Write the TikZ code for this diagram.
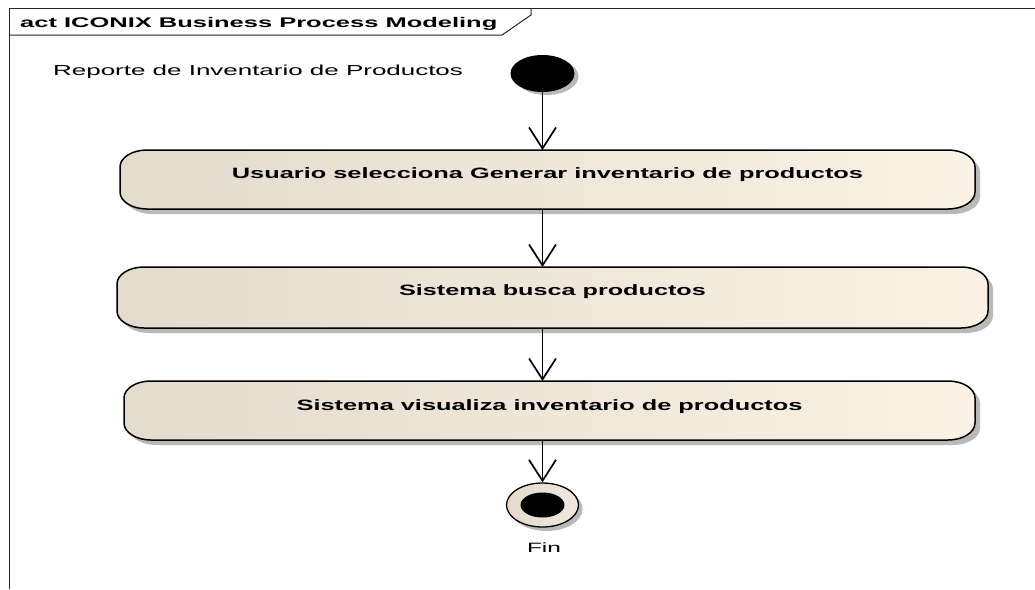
\documentclass[tikz,border=0pt]{standalone}
\usepackage{fontspec}
\usepackage{graphicx}
\setmainfont{Liberation Sans}
\usetikzlibrary{shapes.geometric,arrows.meta,calc,backgrounds}
\definecolor{shadowc}{RGB}{185,185,185}
\definecolor{boxleft}{RGB}{228,219,206}
\definecolor{boxright}{RGB}{251,242,229}
\definecolor{finfill}{RGB}{240,232,220}
\newcommand\hs[2]{\scalebox{#1}[1]{#2}}
\newcommand\ebox[5]{% options, node, rx, ry, shift
  \path[#1] ($(#2.north west)+(#5)+(#3,0)$) -- ($(#2.north east)+(#5)+(-#3,0)$)
  arc[start angle=90,end angle=0,x radius=#3,y radius=#4]
  -- ($(#2.south east)+(#5)+(0,#4)$)
  arc[start angle=0,end angle=-90,x radius=#3,y radius=#4]
  -- ($(#2.south west)+(#5)+(#3,0)$)
  arc[start angle=270,end angle=180,x radius=#3,y radius=#4]
  -- ($(#2.north west)+(#5)+(0,-#4)$)
  arc[start angle=180,end angle=90,x radius=#3,y radius=#4] -- cycle;}
\tikzset{
  actbox/.style={rectangle, inner sep=0pt, outer sep=0pt, font=\fontsize{15}{17}\selectfont\bfseries},
  flow/.style={line width=1.7pt, -{Straight Barb[length=21pt,width=27pt,line width=1.7pt]}},
  frameline/.style={line width=1pt, draw=black!85},
}
\begin{document}
\begin{tikzpicture}[x=1pt,y=1pt]
\useasboundingbox (0,0) rectangle (1035,-589);
% frame
\draw[frameline] (9,-589) -- (9,-8) -- (1035,-8);
\draw[frameline] (9,-35) -- (502,-35) -- (531,-15) -- (531,-8);
\node[anchor=base west, inner sep=0pt, font=\fontsize{14}{16}\selectfont\bfseries] (title) at (20,-27.5)
  {\hs{1.82}{act ICONIX Business Process Modeling}};
\node[anchor=base west, inner sep=0pt, font=\fontsize{14.5}{17}\selectfont] (lbl) at (53,-75.5)
  {\hs{1.79}{Reporte de Inventario de Productos}};
% nodes
\node[ellipse, fill=black, inner sep=0pt, minimum width=64pt, minimum height=37pt] (s) at (542.5,-73.5) {};
\node[actbox, minimum width=855pt, minimum height=59pt] (b1) at (547.5,-179.5)
  {\raisebox{1.5pt}[0pt][0pt]{\hs{1.69}{Usuario selecciona Generar inventario de productos}}};
\node[actbox, minimum width=871pt, minimum height=61pt] (b2) at (552.5,-297.5)
  {\raisebox{2pt}[0pt][0pt]{\hs{1.68}{Sistema busca productos}}};
\node[actbox, minimum width=851pt, minimum height=59pt] (b3) at (549.5,-410.5)
  {\raisebox{0.5pt}[0pt][0pt]{\hs{1.69}{Sistema visualiza inventario de productos}}};
\node[ellipse, draw=black, line width=1.3pt, left color=boxleft, right color=finfill, inner sep=0pt,
  minimum width=72pt, minimum height=44pt] (f) at (542.5,-505) {};
\fill[black] (f.center) ellipse[x radius=22, y radius=12.5];
\node[anchor=base, inner sep=0pt, font=\fontsize{13.5}{16}\selectfont] (fin) at (544,-552)
  {\hs{1.81}{Fin}};
% backgrounds
\begin{pgfonlayer}{background}
  \fill[shadowc] ($(s.center)+(4,-3)$) ellipse[x radius=32, y radius=18.5];
  \fill[shadowc] ($(f.center)+(4,-4)$) ellipse[x radius=36, y radius=22];
  \ebox{fill=shadowc}{b1}{27}{17}{5,-5}
  \ebox{fill=shadowc}{b2}{27}{17}{5,-5}
  \ebox{fill=shadowc}{b3}{27}{17}{5,-5}
  \ebox{left color=boxleft, right color=boxright, draw=black, line width=1.5pt}{b1}{27}{17}{0,0}
  \ebox{left color=boxleft, right color=boxright, draw=black, line width=1.5pt}{b2}{27}{17}{0,0}
  \ebox{left color=boxleft, right color=boxright, draw=black, line width=1.5pt}{b3}{27}{17}{0,0}
\end{pgfonlayer}
% connectors
\draw[flow] (s.south) -- (b1.north -| s.south);
\draw[flow] (b1.south -| s.south) -- (b2.north -| s.south);
\draw[flow] (b2.south -| s.south) -- (b3.north -| s.south);
\draw[flow] (b3.south -| f.north) -- (f.north);
\end{tikzpicture}
\end{document}
